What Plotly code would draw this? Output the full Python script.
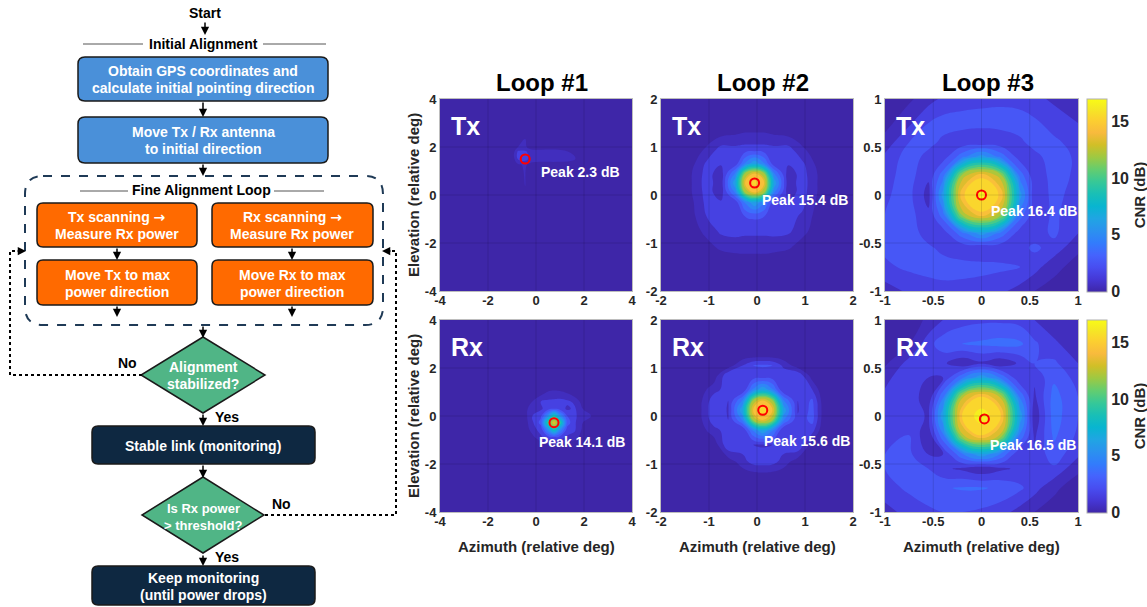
import plotly.graph_objects as go

W, H = 1147, 607

# ---------------- data ----------------
loop_titles = ["Loop #1", "Loop #2", "Loop #3"]
row_labels = ["Tx", "Rx"]
half_range = [4, 2, 1]
ticks_loop1 = [-4, -2, 0, 2, 4]
ticks_loop2 = [-2, -1, 0, 1, 2]
ticks_loop3 = [-1, -0.5, 0, 0.5, 1]
ticktext_loop1 = ["-4", "-2", "0", "2", "4"]
ticktext_loop2 = ["-2", "-1", "0", "1", "2"]
ticktext_loop3 = ["-1", "-0.5", "0", "0.5", "1"]

# order: Tx L1, Tx L2, Tx L3, Rx L1, Rx L2, Rx L3
peak_db = [2.3, 15.4, 16.4, 14.1, 15.6, 16.5]
peak_az = [-0.45, -0.05, 0.0, 0.75, 0.12, 0.03]
peak_el = [1.5, 0.25, 0.0, -0.28, 0.12, -0.03]

cnr_min, cnr_max = 0, 17
cbar_ticks = [0, 5, 10, 15]

# CNR (dB) grids
tx1_az = [-4, -0.95, -0.75, -0.45, -0.25, 4]
tx1_el = [-4, 1.25, 1.5, 1.8, 2.0, 4]
tx1_cnr = [
    [0, 0, 0, 0, 0, 0],
    [0, 0, 0.8, 1.2, 0.6, 0],
    [0, 0.6, 2.1, 2.3, 1.8, 0],
    [0, 0.6, 2.2, 2.2, 1.6, 0],
    [0, 0, 1.0, 1.2, 0.6, 0],
    [0, 0, 0, 0, 0, 0],
]

tx2_az = [-2, -1.4, -1.05, -0.75, -0.45, -0.25, -0.05, 0.15, 0.35, 0.65, 0.95, 1.3, 2]
tx2_el = [-2, -1.4, -1.05, -0.75, -0.45, -0.15, 0.05, 0.25, 0.45, 0.65, 0.95, 1.35, 2]
tx2_cnr = [
    [0, 0, 0, 0, 0, 0, 0, 0, 0, 0, 0, 0, 0],
    [0, 0, 0, 0.1, 0.3, 0.4, 0.4, 0.4, 0.3, 0.1, 0, 0, 0],
    [0, 0, 0.6, 1.4, 1.6, 1.6, 1.6, 1.6, 1.5, 1.3, 0.5, 0, 0],
    [0, 0.2, 1.4, 2.2, 2.3, 2.2, 2.2, 2.2, 2.3, 2.2, 1.4, 0.2, 0],
    [0, 0.5, 2.0, 2.6, 2.6, 3.0, 3.2, 3.0, 2.6, 2.4, 1.8, 0.4, 0],
    [0, 0.6, 2.3, 2.1, 2.4, 5.2, 7.0, 5.2, 2.4, 2.1, 2.3, 0.6, 0],
    [0, 0.8, 2.4, 1.5, 5.2, 12.0, 14.0, 12.0, 5.2, 1.5, 2.4, 0.8, 0],
    [0, 0.8, 2.5, 1.4, 7.0, 14.0, 15.4, 14.0, 7.0, 1.4, 2.5, 0.8, 0],
    [0, 0.8, 2.4, 1.5, 5.2, 12.0, 14.0, 12.0, 5.2, 1.5, 2.4, 0.8, 0],
    [0, 0.5, 2.2, 2.1, 2.4, 5.2, 7.0, 5.2, 2.4, 2.1, 2.2, 0.5, 0],
    [0, 0, 1.2, 2.4, 2.3, 2.4, 2.4, 2.4, 2.3, 2.4, 1.2, 0, 0],
    [0, 0, 0, 0.3, 0.6, 0.8, 0.8, 0.8, 0.6, 0.3, 0, 0, 0],
    [0, 0, 0, 0, 0, 0, 0, 0, 0, 0, 0, 0, 0],
]

tx3_az = [-1, -0.75, -0.55, -0.4, -0.2, 0, 0.2, 0.4, 0.55, 0.75, 1]
tx3_el = [-1, -0.75, -0.55, -0.4, -0.2, 0, 0.2, 0.4, 0.55, 0.75, 1]
tx3_cnr = [
    [1.5, 2.2, 2.6, 2.6, 2.6, 2.5, 2.2, 1.6, 1.0, 0.6, 0.3],
    [2.8, 3.2, 3.3, 3.5, 3.4, 3.3, 3.2, 3.0, 2.4, 1.3, 0.6],
    [3.2, 3.6, 3.2, 2.7, 2.3, 2.2, 2.3, 2.7, 3.2, 2.6, 1.2],
    [3.0, 3.6, 2.5, 2.4, 4.6, 6.5, 4.6, 2.4, 2.5, 3.2, 2.0],
    [3.0, 3.4, 2.2, 4.6, 12.5, 14.8, 12.5, 4.6, 2.3, 3.2, 2.4],
    [2.9, 3.3, 1.6, 6.5, 14.8, 16.4, 14.8, 6.5, 2.2, 3.3, 2.6],
    [2.7, 3.4, 2.2, 4.6, 12.5, 14.8, 12.5, 4.6, 2.3, 3.4, 2.8],
    [2.2, 3.5, 2.7, 2.4, 4.6, 6.5, 4.6, 2.4, 2.7, 3.5, 2.8],
    [1.4, 3.0, 3.3, 2.8, 2.3, 2.2, 2.3, 2.8, 3.4, 3.2, 2.6],
    [0.6, 1.8, 3.0, 3.4, 3.4, 3.3, 3.4, 3.5, 3.2, 2.6, 2.0],
    [0.3, 0.8, 1.6, 2.2, 2.6, 2.8, 2.8, 2.6, 2.3, 1.8, 1.4],
]

rx1_az = [-4, -0.5, -0.15, 0.2, 0.5, 0.75, 1.0, 1.3, 1.6, 1.95, 4]
rx1_el = [-4, -1.2, -0.9, -0.55, -0.28, 0.0, 0.3, 0.6, 0.95, 1.25, 4]
rx1_cnr = [
    [0, 0, 0, 0, 0, 0, 0, 0, 0, 0, 0],
    [0, 0, 0, 0.3, 0.7, 0.8, 0.7, 0.4, 0, 0, 0],
    [0, 0, 0.6, 1.8, 2.4, 2.6, 2.4, 1.8, 1.6, 0.2, 0],
    [0, 0, 1.6, 2.4, 6.0, 9.5, 6.0, 2.6, 2.2, 0.8, 0],
    [0, 0.3, 1.8, 3.4, 10.0, 14.1, 10.0, 3.6, 2.2, 1.0, 0],
    [0, 0.4, 2.0, 2.8, 6.0, 9.5, 6.0, 3.0, 2.3, 1.2, 0],
    [0, 0.2, 2.0, 1.8, 2.6, 3.0, 2.6, 1.8, 2.2, 1.0, 0],
    [0, 0, 1.0, 2.0, 2.2, 2.2, 2.3, 2.2, 1.8, 0.5, 0],
    [0, 0, 0, 0.6, 1.3, 1.5, 1.4, 1.0, 0.4, 0, 0],
    [0, 0, 0, 0, 0.1, 0.2, 0.1, 0, 0, 0, 0],
    [0, 0, 0, 0, 0, 0, 0, 0, 0, 0, 0],
]

rx2_az = [-2, -1.3, -0.9, -0.6, -0.3, -0.08, 0.12, 0.32, 0.55, 0.85, 1.15, 1.4, 2]
rx2_el = [-2, -1.3, -0.95, -0.6, -0.3, -0.08, 0.12, 0.32, 0.55, 0.85, 1.05, 1.3, 2]
rx2_cnr = [
    [0, 0, 0, 0, 0, 0, 0, 0, 0, 0, 0, 0, 0],
    [0, 0, 0, 0, 0, 0.1, 0.2, 0.1, 0, 0, 0, 0, 0],
    [0, 0, 0, 0.4, 1.6, 2.4, 2.5, 2.4, 1.6, 0.4, 0, 0, 0],
    [0, 0, 0.3, 2.8, 2.5, 2.0, 1.9, 2.0, 2.5, 3.0, 0.5, 0, 0],
    [0, 0, 1.6, 2.5, 2.0, 5.2, 7.0, 5.2, 2.0, 2.8, 2.4, 0, 0],
    [0, 0, 2.6, 2.0, 5.2, 12.2, 14.2, 12.2, 5.2, 2.2, 3.4, 0.2, 0],
    [0, 0, 2.8, 1.9, 7.0, 14.2, 15.6, 14.2, 7.0, 1.9, 3.4, 0.3, 0],
    [0, 0, 2.6, 2.0, 5.2, 12.2, 14.2, 12.2, 5.2, 2.0, 3.2, 0.2, 0],
    [0, 0, 1.6, 2.5, 2.0, 5.2, 7.0, 5.2, 2.0, 2.5, 2.0, 0, 0],
    [0, 0, 0.3, 2.8, 2.6, 2.2, 2.0, 2.2, 2.6, 2.8, 0.4, 0, 0],
    [0, 0, 0, 0.4, 2.0, 3.0, 3.2, 3.0, 1.8, 0.4, 0, 0, 0],
    [0, 0, 0, 0, 0, 0, 0, 0, 0, 0, 0, 0, 0],
    [0, 0, 0, 0, 0, 0, 0, 0, 0, 0, 0, 0, 0],
]

rx3_az = [-1, -0.75, -0.55, -0.4, -0.2, 0, 0.2, 0.4, 0.55, 0.75, 1]
rx3_el = [-1, -0.75, -0.55, -0.4, -0.2, 0, 0.2, 0.4, 0.55, 0.75, 1]
rx3_cnr = [
    [1.6, 2.4, 2.8, 3.0, 3.0, 2.8, 2.4, 1.6, 1.0, 0.6, 0.3],
    [2.6, 3.2, 3.6, 3.9, 4.1, 4.1, 3.8, 3.2, 2.4, 1.2, 0.5],
    [3.0, 3.4, 3.0, 2.2, 1.8, 1.2, 1.8, 2.2, 3.0, 2.8, 1.2],
    [3.0, 3.2, 2.0, 2.0, 4.8, 6.8, 4.8, 2.0, 2.2, 3.6, 2.2],
    [2.8, 3.0, 1.2, 4.8, 12.8, 15.2, 12.8, 4.8, 1.8, 4.2, 2.8],
    [2.6, 2.8, 1.8, 6.8, 15.2, 16.5, 15.2, 6.8, 1.2, 4.5, 3.0],
    [2.3, 2.8, 1.2, 4.8, 12.8, 15.2, 12.8, 4.8, 1.8, 4.4, 3.0],
    [1.6, 3.0, 2.0, 2.0, 4.8, 6.8, 4.8, 2.0, 2.2, 3.8, 2.6],
    [0.8, 2.4, 3.0, 2.2, 1.2, 1.8, 1.2, 2.2, 3.0, 3.2, 2.0],
    [0.4, 1.0, 2.6, 3.6, 4.0, 4.2, 4.4, 4.2, 3.2, 2.2, 1.4],
    [0.2, 0.5, 1.2, 2.0, 2.6, 2.8, 2.8, 2.6, 2.0, 1.4, 1.0],
]

# ---------------- style ----------------
FONT = "Liberation Sans, Arial, Helvetica, sans-serif"
TXT = "#262626"
parula = [
    [0.000, "rgb(62,38,168)"], [0.0635, "rgb(69,55,213)"], [0.127, "rgb(72,77,240)"],
    [0.190, "rgb(69,99,253)"], [0.254, "rgb(50,124,252)"], [0.317, "rgb(43,145,239)"],
    [0.381, "rgb(32,165,227)"], [0.444, "rgb(8,181,208)"], [0.508, "rgb(25,191,182)"],
    [0.571, "rgb(55,200,151)"], [0.635, "rgb(100,205,111)"], [0.698, "rgb(157,201,67)"],
    [0.762, "rgb(209,191,39)"], [0.825, "rgb(248,186,61)"], [0.889, "rgb(252,207,48)"],
    [0.952, "rgb(245,233,36)"], [1.000, "rgb(249,251,21)"],
]
col_px = [(440, 632), (661, 853), (885, 1078)]
row_px = [(99, 291), (320, 512)]
label_dx = [14, 5, 7, -17, -1, 4]
label_dy = [13, 17, 16, 19, 31, 26]


def px(x):
    return x / W


def py(y):
    return 1 - y / H


panels = [
    (tx1_az, tx1_el, tx1_cnr), (tx2_az, tx2_el, tx2_cnr), (tx3_az, tx3_el, tx3_cnr),
    (rx1_az, rx1_el, rx1_cnr), (rx2_az, rx2_el, rx2_cnr), (rx3_az, rx3_el, rx3_cnr),
]
ticks = [ticks_loop1, ticks_loop2, ticks_loop3]
ticktexts = [ticktext_loop1, ticktext_loop2, ticktext_loop3]

fig = go.Figure()
shapes = []
annotations = []
axes = {}

for k, (az, el, cnr) in enumerate(panels):
    r, c = divmod(k, 3)
    n = k + 1
    xa = "x" if n == 1 else f"x{n}"
    ya = "y" if n == 1 else f"y{n}"
    x0, x1 = col_px[c]
    y0, y1 = row_px[r]
    fig.add_trace(go.Contour(
        x=az, y=el, z=cnr, xaxis=xa, yaxis=ya, colorscale=parula,
        zmin=cnr_min, zmax=cnr_max, zauto=False,
        contours=dict(start=1, end=17, size=1, coloring="fill", showlines=False),
        line=dict(width=0, smoothing=1.3), showscale=False,
        hoverinfo="skip",
    ))
    fig.add_trace(go.Scatter(
        x=[peak_az[k]], y=[peak_el[k]], xaxis=xa, yaxis=ya, mode="markers",
        marker=dict(symbol="circle-open", size=9, color="#ff0000",
                    line=dict(width=2, color="#ff0000")),
        showlegend=False, hoverinfo="skip",
    ))
    R = half_range[c]
    common = dict(range=[-R, R], tickvals=ticks[c], ticktext=ticktexts[c],
                  showgrid=False, zeroline=False, showline=True, mirror=True,
                  linecolor="#bdbdbd", linewidth=1, ticks="",
                  tickfont=dict(family=FONT, size=13, color=TXT, weight="bold"))
    axes["xaxis" if n == 1 else f"xaxis{n}"] = dict(domain=[px(x0), px(x1)], anchor=ya,
                                                   ticklabelstandoff=-3, **common)
    axes["yaxis" if n == 1 else f"yaxis{n}"] = dict(domain=[py(y1), py(y0)], anchor=xa, **common)
    # faint grid lines above the map
    for t in ticks[c][1:-1]:
        shapes.append(dict(type="line", xref=xa, yref=ya, x0=t, x1=t, y0=-R, y1=R,
                           line=dict(color="rgba(0,0,0,0.12)", width=1), layer="above"))
        shapes.append(dict(type="line", xref=xa, yref=ya, x0=-R, x1=R, y0=t, y1=t,
                           line=dict(color="rgba(0,0,0,0.12)", width=1), layer="above"))
    # Tx / Rx labels
    annotations.append(dict(x=px(x0 + 9), y=py(y0 + 27), xref="paper", yref="paper",
                            xanchor="left", yanchor="middle", showarrow=False,
                            text=row_labels[r],
                            font=dict(family=FONT, size=25, color="white", weight="bold")))
    # peak label
    annotations.append(dict(x=peak_az[k], y=peak_el[k], xref=xa, yref=ya,
                            xanchor="left", yanchor="middle", showarrow=False,
                            xshift=label_dx[k], yshift=-label_dy[k],
                            text=f"Peak {peak_db[k]} dB",
                            font=dict(family=FONT, size=14, color="white", weight="bold")))

# continuous colour bars (one per row), carried by a colour-only heatmap kept out of view
for r in range(2):
    y0, y1 = row_px[r]
    n = 7 + r
    fig.add_trace(go.Heatmap(
        z=[[cnr_min, cnr_max]], x=[0, 1], y=[0], xaxis=f"x{n}", yaxis=f"y{n}",
        colorscale=parula, zmin=cnr_min, zmax=cnr_max, hoverinfo="skip",
        colorbar=dict(
            x=px(1087), xanchor="left", y=py((y0 + y1) / 2), yanchor="middle",
            len=(y1 - y0 + 1) / H, lenmode="fraction", thickness=20, thicknessmode="pixels",
            xpad=0, ypad=0,
            outlinecolor="#b0b0b0", outlinewidth=1, ticks="", tickvals=cbar_ticks,
            tickfont=dict(family=FONT, size=16, color=TXT, weight="bold"),
            title=dict(text="CNR (dB)", side="right",
                       font=dict(family=FONT, size=15, color=TXT, weight="bold")),
        ),
    ))
    axes[f"xaxis{n}"] = dict(domain=[0.999, 1.0], range=[5, 6], visible=False, anchor=f"y{n}")
    axes[f"yaxis{n}"] = dict(domain=[0.999, 1.0], range=[5, 6], visible=False, anchor=f"x{n}")

# loop titles
for c, t in enumerate(loop_titles):
    x0, x1 = col_px[c]
    annotations.append(dict(x=px((x0 + x1) / 2 + 6), y=py(82), xref="paper", yref="paper",
                            showarrow=False, text=t, xanchor="center", yanchor="middle",
                            font=dict(family=FONT, size=24, color="black", weight="bold")))
# axis titles
for r in range(2):
    y0, y1 = row_px[r]
    annotations.append(dict(x=px(413), y=py((y0 + y1) / 2), xref="paper", yref="paper",
                            showarrow=False, text="Elevation (relative deg)", textangle=-90,
                            xanchor="center", yanchor="middle",
                            font=dict(family=FONT, size=15, color=TXT, weight="bold")))
for c in range(3):
    x0, x1 = col_px[c]
    annotations.append(dict(x=px((x0 + x1) / 2), y=py(546), xref="paper", yref="paper",
                            showarrow=False, text="Azimuth (relative deg)",
                            xanchor="center", yanchor="middle",
                            font=dict(family=FONT, size=15, color=TXT, weight="bold")))

# ---------------- flowchart ----------------
BLUE = "#4a90d9"
ORANGE = "#ff6a00"
GREEN = "#50b586"
NAVY = "#0e2841"
EDGE = "#1a1a1a"
ARROW = '<span style="font-family:DejaVu Sans">→</span>'


def rrect(x0, y0, x1, y1, rad, fill, line_color=EDGE, width=1.5, dash="solid"):
    p = (f"M {px(x0 + rad)},{py(y0)} L {px(x1 - rad)},{py(y0)} "
         f"Q {px(x1)},{py(y0)} {px(x1)},{py(y0 + rad)} L {px(x1)},{py(y1 - rad)} "
         f"Q {px(x1)},{py(y1)} {px(x1 - rad)},{py(y1)} L {px(x0 + rad)},{py(y1)} "
         f"Q {px(x0)},{py(y1)} {px(x0)},{py(y1 - rad)} L {px(x0)},{py(y0 + rad)} "
         f"Q {px(x0)},{py(y0)} {px(x0 + rad)},{py(y0)} Z")
    shapes.append(dict(type="path", path=p, xref="paper", yref="paper",
                       fillcolor=fill, line=dict(color=line_color, width=width, dash=dash)))


def diamond(cx, cy, hw, hh, fill):
    p = (f"M {px(cx)},{py(cy - hh)} L {px(cx + hw)},{py(cy)} L {px(cx)},{py(cy + hh)} "
         f"L {px(cx - hw)},{py(cy)} Z")
    shapes.append(dict(type="path", path=p, xref="paper", yref="paper",
                       fillcolor=fill, line=dict(color=EDGE, width=1.5)))


def hline(x0, x1, y, color="#555555", width=1):
    shapes.append(dict(type="line", xref="paper", yref="paper", x0=px(x0), x1=px(x1),
                       y0=py(y), y1=py(y), line=dict(color=color, width=width)))


def text(x, y, s, size=14, color="white"):
    annotations.append(dict(x=px(x), y=py(y), xref="paper", yref="paper", text=s,
                            showarrow=False, xanchor="center", yanchor="middle",
                            font=dict(family=FONT, size=size, color=color, weight="bold")))


def arrow(x0, y0, x1, y1):
    annotations.append(dict(x=px(x1), y=py(y1), xref="paper", yref="paper", text="",
                            showarrow=True, ax=x0 - x1, ay=y0 - y1, arrowhead=2,
                            arrowsize=1.1, arrowwidth=1.5, arrowcolor="black", standoff=0))


def dotted(points):
    p = "M " + " L ".join(f"{px(x)},{py(y)}" for x, y in points)
    shapes.append(dict(type="path", path=p, xref="paper", yref="paper",
                       line=dict(color="black", width=2, dash="dot")))


text(205, 13, "Start", 14, "black")
arrow(205, 21, 205, 35)
text(203, 44, "Initial Alignment", 14, "black")
hline(83, 143, 44)
hline(263, 326, 44)

rrect(78, 57, 328, 101, 7, BLUE)
text(203, 71, "Obtain GPS coordinates and")
text(203, 88, "calculate initial pointing direction")
arrow(203, 101, 203, 117)
rrect(78, 117, 328, 163, 7, BLUE)
text(203, 132, "Move Tx / Rx antenna")
text(203, 149, "to initial direction")
arrow(203, 163, 203, 176)

rrect(25, 176, 383, 325, 18, "rgba(0,0,0,0)", line_color="#1f3a56", width=2, dash="dash")
text(201, 190, "Fine Alignment Loop", 14, "black")
hline(80, 128, 191)
hline(274, 324, 191)

rrect(37, 203, 197, 247, 6, ORANGE)
text(117, 217, "Tx scanning " + ARROW)
text(117, 234, "Measure Rx power")
rrect(212, 203, 373, 247, 6, ORANGE)
text(292, 217, "Rx scanning " + ARROW)
text(292, 234, "Measure Rx power")
arrow(117, 247, 117, 260)
arrow(292, 247, 292, 260)
rrect(37, 260, 197, 305, 6, ORANGE)
text(117, 275, "Move Tx to max")
text(117, 292, "power direction")
rrect(212, 260, 373, 305, 6, ORANGE)
text(292, 275, "Move Rx to max")
text(292, 292, "power direction")
arrow(117, 305, 117, 317)
arrow(292, 305, 292, 317)
arrow(203, 325, 203, 338)

diamond(203, 375, 62, 38, GREEN)
text(203, 367, "Alignment")
text(203, 384, "stabilized?")
text(127, 363, "No", 14, "black")
dotted([(142, 375), (10, 375), (10, 251), (20, 251)])
arrow(16, 251, 26, 251)

text(227, 417, "Yes", 14, "black")
arrow(203, 413, 203, 426)
rrect(92, 426, 315, 464, 6, NAVY)
text(203, 446, "Stable link (monitoring)")
arrow(203, 464, 203, 478)

diamond(203, 515, 61, 38, GREEN)
text(203, 508, "Is Rx power", 13)
text(203, 525, "> threshold?", 13)
text(281, 504, "No", 14, "black")
dotted([(265, 515), (396, 515), (396, 251), (388, 251)])
arrow(392, 251, 382, 251)

text(227, 557, "Yes", 14, "black")
arrow(203, 554, 203, 566)
rrect(92, 566, 315, 605, 6, NAVY)
text(203, 578, "Keep monitoring")
text(203, 595, "(until power drops)")

fig.update_layout(
    width=W, height=H, margin=dict(l=0, r=0, t=0, b=0, pad=0, autoexpand=False),
    paper_bgcolor="white", plot_bgcolor="white", showlegend=False,
    shapes=shapes, annotations=annotations, **axes,
)
fig.write_html(
    "out.html",
    config={"displayModeBar": False},
    post_script="document.body.style.margin='0';document.body.style.overflow='hidden';",
)
